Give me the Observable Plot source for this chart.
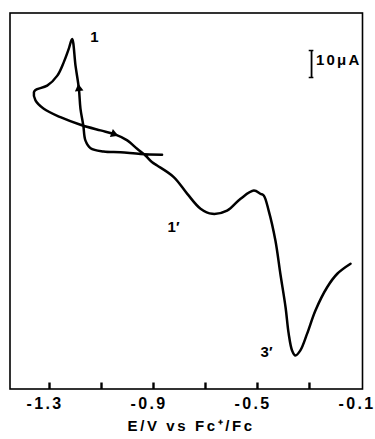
<!DOCTYPE html>
<html>
<head>
<meta charset="utf-8">
<script src="https://cdn.jsdelivr.net/npm/d3@7"></script>
<script src="https://cdn.jsdelivr.net/npm/@observablehq/plot@0.6"></script>
<style>
  html, body { margin: 0; padding: 0; background: #fff; }
  #chart svg { display: block; }
</style>
</head>
<body>
<div id="chart"></div>
<script>
// Potential (V vs Fc+/Fc) and current (µA, arbitrary zero), in sweep order
const potential = [
  -0.867, -0.950, -1.027, -1.092, -1.142, -1.162, -1.170, -1.181, -1.187, -1.200,
  -1.213, -1.226, -1.245, -1.270, -1.309, -1.354, -1.360, -1.354, -1.322, -1.258,
  -1.181, -1.104, -1.053, -1.001, -0.963, -0.931, -0.905, -0.886, -0.822, -0.770,
  -0.719, -0.674, -0.617, -0.565, -0.514, -0.488, -0.476, -0.457, -0.431, -0.412,
  -0.392, -0.380, -0.367, -0.354, -0.335, -0.309, -0.277, -0.232, -0.193, -0.142
];
const current = [
  0.3, 0.6, 1.2, 1.5, 2.7, 5.6, 11.1, 17.4, 24.8, 33.3,
  43.2, 39.5, 34.6, 29.6, 25.9, 24.3, 23.4, 20.4, 17.3, 14.2,
  11.4, 9.3, 8.0, 5.6, 2.5, 0.0, -2.5, -3.7, -8.0, -14.2,
  -19.7, -21.6, -20.4, -16.0, -13.0, -14.2, -14.8, -20.4, -31.5, -43.8,
  -56.2, -66.0, -72.2, -74.1, -72.2, -66.0, -57.4, -48.8, -43.8, -40.1
];

// Sweep-direction arrows
const arrowE = [-1.187, -1.053];
const arrowI = [24.8, 8.0];
const arrowAngle = [-7, 110];

// Peak labels
const peakLabels = ["1", "1\u2032", "3\u2032"];
const peakE = [-1.127, -0.823, -0.465];
const peakI = [43.7, -26.7, -73.0];

// Axis ticks
const tickValues = [-1.3, -1.1, -0.9, -0.7, -0.5, -0.3];
const tickLabels = [-1.3, -0.9, -0.5, -0.1];
const xTitle = "E/V vs Fc\u207A/Fc";

// 10 µA scale bar
const scaleBarE = -0.292;
const scaleBarLow = 28.9;
const scaleBarHigh = 38.9;
const scaleBarText = "10\u03BCA";

const trace = potential.map((e, i) => ({E: e, I: current[i]}));
const arrows = arrowE.map((e, i) => ({E: e, I: arrowI[i], a: arrowAngle[i]}));
const peaks = peakLabels.map((t, i) => ({t, E: peakE[i], I: peakI[i]}));

const font = "Liberation Sans, Arial, Helvetica, sans-serif";
const xDomain = [-1.452, -0.096];
const yDomain = [-86.5, 52.8];

// inward tick: a short vertical stroke drawn upward from the frame's bottom edge
const tickSymbol = {draw(context) { context.moveTo(0, 0); context.lineTo(0, -6.5); }};

const chart = Plot.plot({
  width: 375,
  height: 439,
  marginLeft: 9.5,
  marginRight: 13,
  marginTop: 12.5,
  marginBottom: 50.5,
  style: {fontFamily: font, background: "#fff", color: "#000"},
  x: {domain: xDomain, axis: null},
  y: {domain: yDomain, axis: null},
  marks: [
    Plot.frame({stroke: "#000", strokeWidth: 1.6}),
    Plot.line(trace, {x: "E", y: "I", curve: "catmull-rom", stroke: "#000", strokeWidth: 2.5}),
    Plot.dot(tickValues, {
      x: d => d, frameAnchor: "bottom", symbol: tickSymbol,
      fill: "none", stroke: "#000", strokeWidth: 2.4
    }),
    Plot.text(tickLabels, {
      x: d => d, text: d => d.toFixed(1), frameAnchor: "bottom", dy: 20, dx: -4.5,
      fontSize: 16, fontWeight: "bold", fill: "#000"
    }),
    Plot.text([xTitle], {
      x: [-0.755], text: d => d, frameAnchor: "bottom", dy: 41.5,
      fontSize: 15, fontWeight: "bold", fill: "#000"
    }),
    Plot.dot(arrows, {x: "E", y: "I", rotate: "a", symbol: "triangle", r: 3.2, fill: "#000", stroke: "none"}),
    Plot.text(peaks, {x: "E", y: "I", text: "t", fontSize: 15, fontWeight: "bold", fill: "#000"}),
    Plot.ruleX([scaleBarE], {y1: scaleBarLow, y2: scaleBarHigh, stroke: "#000", strokeWidth: 1.8}),
    Plot.ruleY([scaleBarLow, scaleBarHigh], {x1: scaleBarE - 0.009, x2: scaleBarE + 0.009, stroke: "#000", strokeWidth: 1.5}),
    Plot.text([scaleBarText], {
      x: [scaleBarE + 0.017], y: [(scaleBarLow + scaleBarHigh) / 2 + 1.5], text: d => d,
      textAnchor: "start", fontSize: 15, fontWeight: "bold", fill: "#000"
    })
  ]
});

// letter spacing of the lettering (the four text marks, in mark order)
const spacing = [2.3, 2.6, 0, 2.2];
d3.select(chart).selectAll('g[aria-label="text"]').each(function (_, i) {
  if (spacing[i]) d3.select(this).attr("letter-spacing", spacing[i] + "px");
});

document.getElementById("chart").appendChild(chart);
</script>
</body>
</html>
